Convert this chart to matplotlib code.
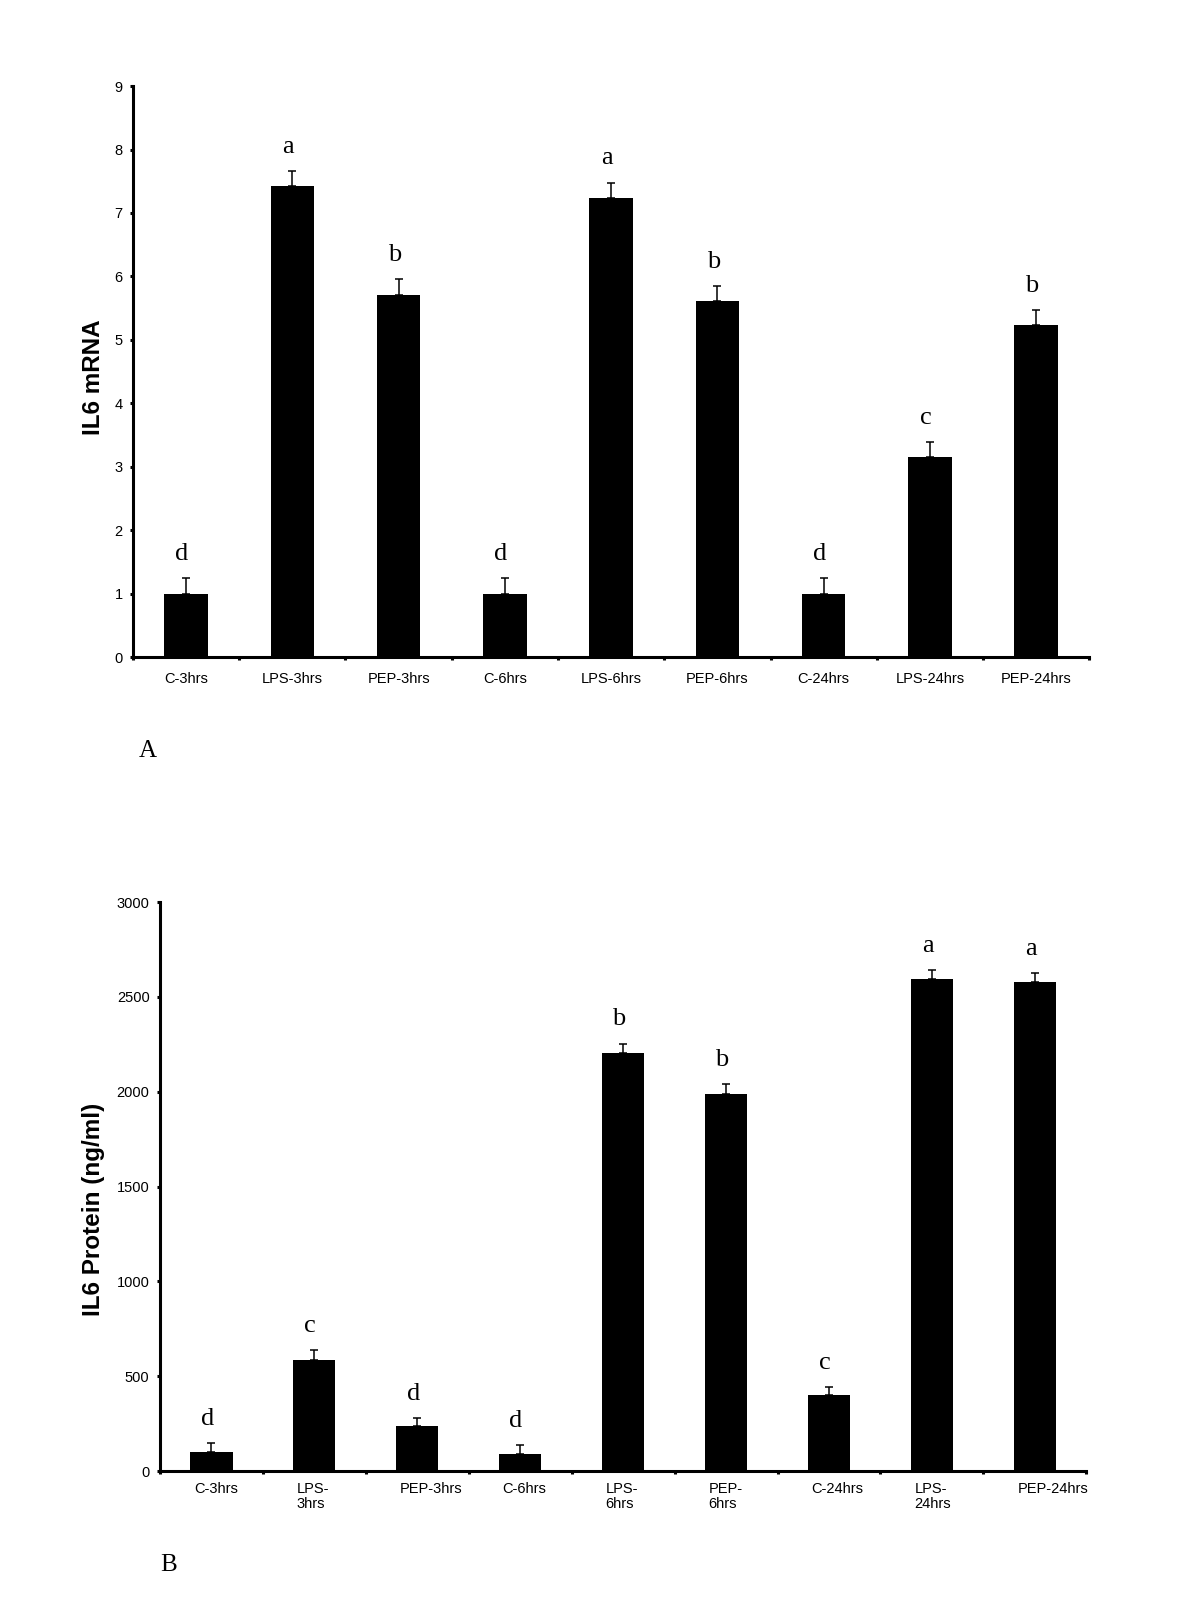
import matplotlib
matplotlib.use("Agg")
import matplotlib.pyplot as plt
import numpy as np

# panel A: IL6 mRNA
groups = ["C-3hrs", "LPS-3hrs", "PEP-3hrs", "C-6hrs", "LPS-6hrs",
          "PEP-6hrs", "C-24hrs", "LPS-24hrs", "PEP-24hrs"]
mrna = [1.0, 7.42, 5.71, 1.0, 7.24, 5.61, 1.0, 3.15, 5.23]
mrna_err = [0.24, 0.24, 0.25, 0.24, 0.24, 0.24, 0.24, 0.24, 0.24]
mrna_letters = ["d", "a", "b", "d", "a", "b", "d", "c", "b"]

# panel B: IL6 protein
protein_labels = ["C-3hrs", "LPS-\n3hrs", "PEP-3hrs", "C-6hrs", "LPS-\n6hrs",
                  "PEP-\n6hrs", "C-24hrs", "LPS-\n24hrs", "PEP-24hrs"]
protein = [100, 588, 237, 90, 2206, 1990, 399, 2594, 2578]
protein_err = [50, 48, 45, 45, 48, 48, 45, 48, 48]
protein_letters = ["d", "c", "d", "d", "b", "b", "c", "a", "a"]

sans = "Liberation Sans"
serif = "Liberation Serif"

fig = plt.figure(figsize=(12, 16.03), dpi=100)
axA = fig.add_axes([0.1108, 0.5901, 0.797, 0.3562])
axB = fig.add_axes([0.1333, 0.0823, 0.772, 0.355])


def draw(ax, vals, errs, letters, ymax, yticks):
    x = np.arange(len(vals))
    ax.bar(x, vals, width=0.41, color="black")
    ax.errorbar(x, vals, yerr=[np.zeros(len(errs)), errs], fmt="none",
                ecolor="black", elinewidth=1.1, capsize=3, capthick=1.1)
    for xi, v, e, s in zip(x, vals, errs, letters):
        ax.annotate(s, (xi, v + e), xytext=(-3, 13), textcoords="offset points",
                    ha="center", va="baseline", fontsize=19, family=serif)
    ax.set_xlim(-0.5, len(vals) - 0.5)
    ax.set_ylim(0, ymax)
    ax.set_yticks(yticks)
    ax.set_xticks(np.arange(-0.5, len(vals), 1))
    ax.set_xticklabels([])
    for side in ["top", "right"]:
        ax.spines[side].set_visible(False)
    for side in ["left", "bottom"]:
        ax.spines[side].set_linewidth(2.2)
    ax.tick_params(axis="y", direction="out", length=2.5, width=2.2, pad=5,
                   labelsize=10.5)
    ax.tick_params(axis="x", direction="out", length=2.5, width=2.2)
    for lab in ax.get_yticklabels():
        lab.set_family(sans)


draw(axA, mrna, mrna_err, mrna_letters, 9, range(0, 10))
for i, g in enumerate(groups):
    axA.text(i, -0.027, g, transform=axA.get_xaxis_transform(), ha="center",
             va="top", fontsize=10.5, family=sans)
axA.set_ylabel("IL6 mRNA", fontsize=17.5, fontweight="bold", family=sans)
axA.yaxis.set_label_coords(-0.029, 0.49)

draw(axB, protein, protein_err, protein_letters, 3000, range(0, 3001, 500))
for i, g in enumerate(protein_labels):
    axB.text(i - 0.17, -0.019, g, transform=axB.get_xaxis_transform(), ha="left",
             va="top", fontsize=10.5, family=sans, linespacing=1.1)
axB.set_ylabel("IL6 Protein (ng/ml)", fontsize=17.5, fontweight="bold", family=sans)
axB.yaxis.set_label_coords(-0.059, 0.46)

fig.text(148 / 1200, 1 - 751 / 1603, "A", ha="center", va="center",
         fontsize=18, family=serif)
fig.text(169 / 1200, 1 - 1565 / 1603, "B", ha="center", va="center",
         fontsize=18, family=serif)

fig.savefig("out.png", dpi=100, facecolor="white")
